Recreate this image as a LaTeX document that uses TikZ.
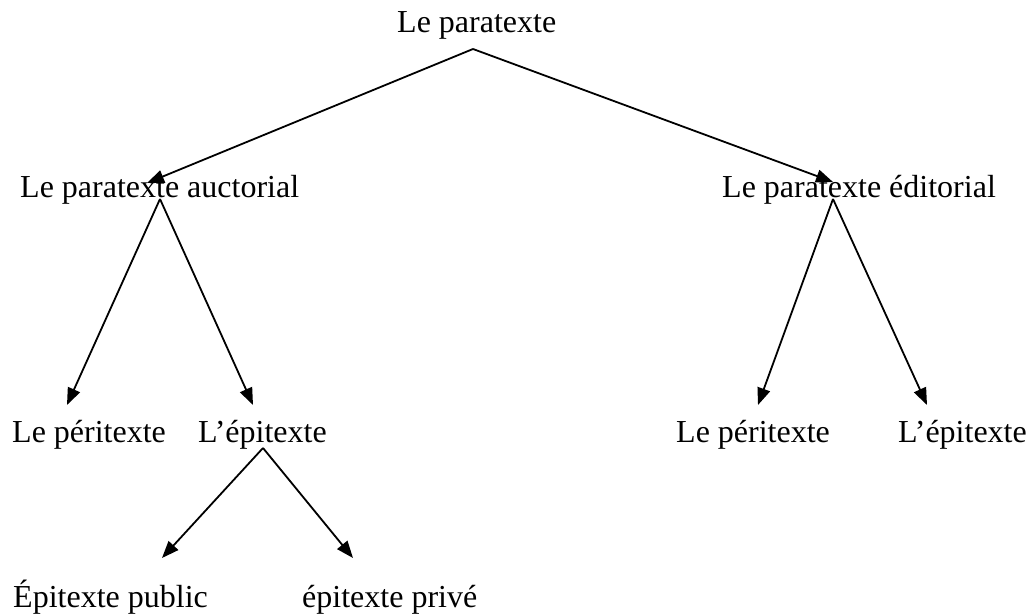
\documentclass[tikz,border=0pt]{standalone}
\usepackage{fontspec}
\setmainfont{Liberation Serif}
\usetikzlibrary{arrows.meta}
\begin{document}
\begin{tikzpicture}[x=1pt,y=-1pt,
  lbl/.style={anchor=base west,inner sep=0pt,font=\fontsize{32}{38}\selectfont},
  conn/.style={line width=1.8pt,-{Triangle[length=17pt,width=13pt]}}]
\useasboundingbox (0,0) rectangle (1034,615);
\node[lbl] (root) at (397,33) {Le paratexte};
\node[lbl] (auct) at (20,197) {Le paratexte auctorial};
\node[lbl] (edit) at (722,197) {Le paratexte éditorial};
\node[lbl] (per1) at (12,442) {Le péritexte};
\node[lbl] (epi1) at (198,442) {L’épitexte};
\node[lbl] (per2) at (676,442) {Le péritexte};
\node[lbl] (epi2) at (898,442) {L’épitexte};
\node[lbl] (pub) at (13,607) {Épitexte public};
\node[lbl] (priv) at (302,607) {épitexte privé};
% connector end points
\coordinate (root-o) at (473,49);
\coordinate (auct-i) at (147,183);
\coordinate (edit-i) at (833,182);
\coordinate (auct-o) at (160,199);
\coordinate (per1-i) at (67,405);
\coordinate (epi1-i) at (253,405);
\coordinate (edit-o) at (833,199);
\coordinate (per2-i) at (758,405);
\coordinate (epi2-i) at (927,405);
\coordinate (epi1-o) at (263,448);
\coordinate (pub-i) at (162,558);
\coordinate (priv-i) at (353,558);
\draw[conn] (root-o) -- (auct-i);
\draw[conn] (root-o) -- (edit-i);
\draw[conn] (auct-o) -- (per1-i);
\draw[conn] (auct-o) -- (epi1-i);
\draw[conn] (edit-o) -- (per2-i);
\draw[conn] (edit-o) -- (epi2-i);
\draw[conn] (epi1-o) -- (pub-i);
\draw[conn] (epi1-o) -- (priv-i);
\end{tikzpicture}
\end{document}
